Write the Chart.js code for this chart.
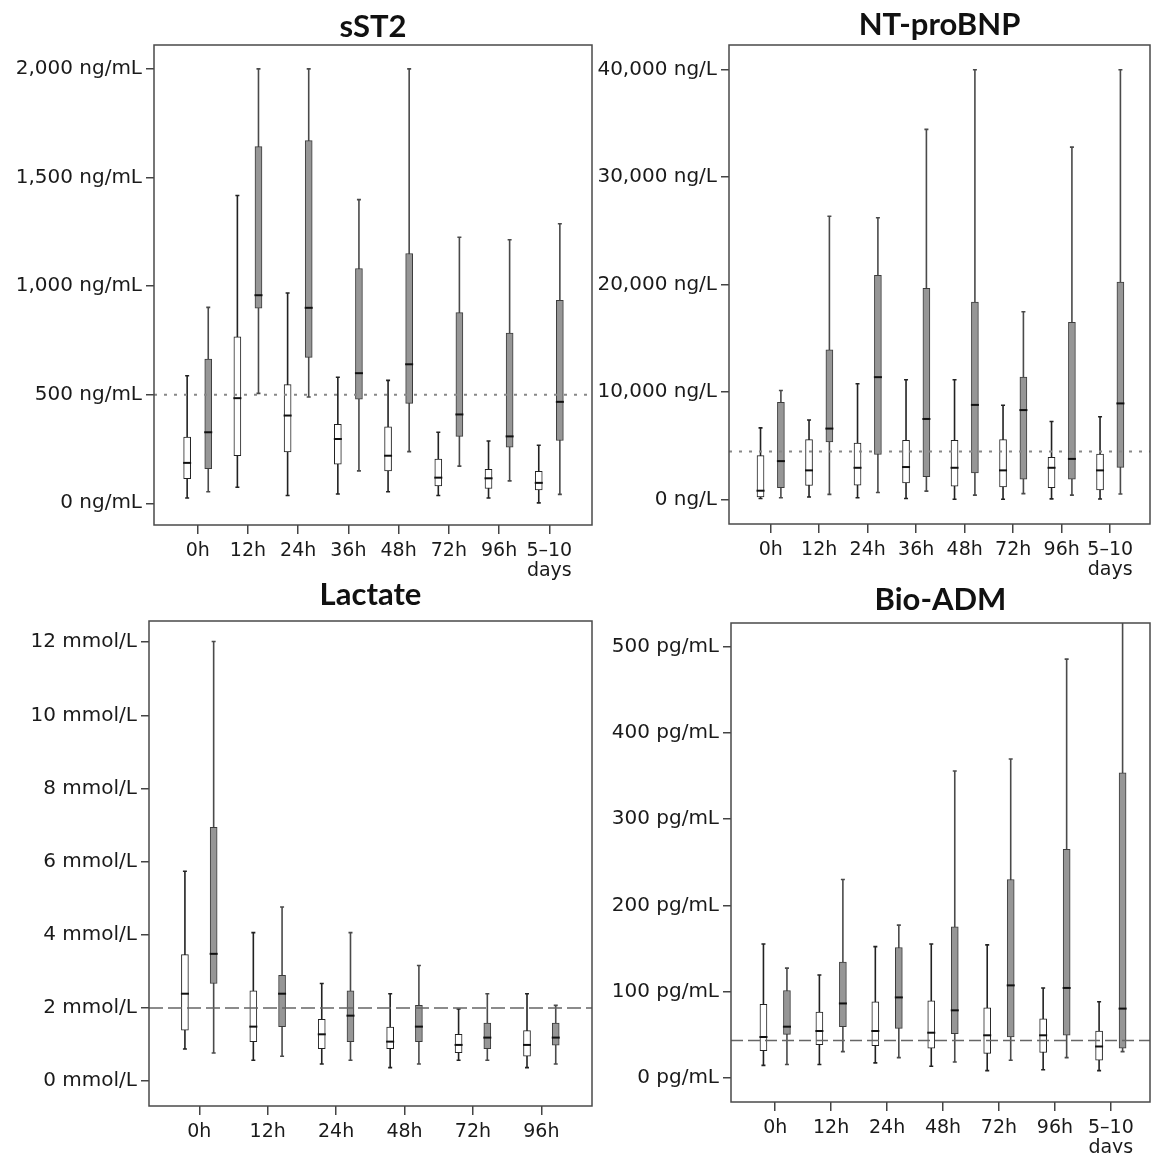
<!DOCTYPE html>
<html>
<head>
<meta charset="utf-8">
<script src="https://cdn.jsdelivr.net/npm/chart.js@4"></script>
<style>
  html, body { margin: 0; padding: 0; background: #fff; }
  #wrap { position: relative; width: 1151px; height: 1153px; overflow: hidden; }
  canvas { position: absolute; }
</style>
</head>
<body>
<div id="wrap">
  <canvas id="c-sst2" width="600" height="580" style="left:0;top:0"></canvas>
  <canvas id="c-nt" width="555" height="580" style="left:596px;top:0"></canvas>
  <canvas id="c-lac" width="600" height="588" style="left:0;top:565px"></canvas>
  <canvas id="c-adm" width="555" height="588" style="left:596px;top:565px"></canvas>
</div>
<script>
// ---- data (each row: [min, q1, median, q3, max]) ----
const sst2Times = ['0h', '12h', '24h', '36h', '48h', '72h', '96h', ['5–10', 'days']];
const sst2Ticks = [0, 500, 1000, 1500, 2000];
const sst2Cutoff = 500;
const sst2Group1 = [[24,113,186,305,587],[74,219,484,766,1417],[36,236,404,546,968],[43,180,296,363,580],[53,149,219,352,566],[36,80,118,204,327],[24,68,115,156,287],[2,62,94,147,267]];
const sst2Group2 = [[53,159,327,664,902],[506,898,958,1642,2000],[489,672,900,1670,2000],[149,479,599,1081,1398],[238,460,640,1150,2000],[171,308,409,878,1225],[103,258,308,784,1213],[41,289,467,934,1287]];

const ntTimes = ['0h', '12h', '24h', '36h', '48h', '72h', '96h', ['5–10', 'days']];
const ntTicks = [0, 10000, 20000, 30000, 40000];
const ntCutoff = 4475;
const ntGroup1 = [[100,240,826,4096,6678],[241,1308,2719,5577,7401],[172,1343,2960,5267,10775],[103,1549,3029,5508,11153],[34,1239,2960,5508,11153],[34,1170,2719,5577,8778],[69,1102,2960,3924,7263],[50,895,2719,4234,7711]];
const ntGroup2 = [[172,1102,3580,9053,10155],[482,5370,6609,13941,26368],[654,4200,11394,20861,26230],[792,2134,7504,19656,34458],[413,2478,8812,18382,40000],[551,1893,8330,11394,17487],[413,1893,3787,16489,32806],[516,2995,8950,20241,40000]];

const lacTimes = ['0h', '12h', '24h', '48h', '72h', '96h'];
const lacTicks = [0, 2, 4, 6, 8, 10, 12];
const lacCutoff = 2;
const lacGroup1 = [[0.88,1.39,2.39,3.46,5.74],[0.57,1.08,1.49,2.47,4.06],[0.47,0.89,1.28,1.69,2.67],[0.37,0.89,1.08,1.48,2.39],[0.57,0.78,0.99,1.28,1.97],[0.37,0.68,0.99,1.38,2.39]];
const lacGroup2 = [[0.77,2.67,3.48,6.94,12.02],[0.68,1.49,2.39,2.89,4.76],[0.57,1.08,1.79,2.47,4.06],[0.47,1.08,1.49,2.07,3.16],[0.57,0.89,1.19,1.59,2.39],[0.47,0.98,1.19,1.59,2.07]];

const admTimes = ['0h', '12h', '24h', '48h', '72h', '96h', ['5–10', 'days']];
const admTicks = [0, 100, 200, 300, 400, 500];
const admCutoff = 43;
const admGroup1 = [[14,31,47,85,155],[15,38,54,76,119],[17,37,54,88,152],[13,34,52,89,155],[8,28,49,81,154],[9,29,49,68,104],[8,20,36,54,88]];
const admGroup2 = [[15,50,59,101,127],[30,59,86,134,230],[23,57,93,151,177],[18,51,78,175,356],[20,47,107,230,370],[23,49,104,265,486],[30,34,80,354,560]];

// whiskers, caps, medians, cut-off line and frame
const boxPlotPlugin = {
  id: 'boxPlot',
  beforeDatasetsDraw(chart) {
    const ctx = chart.ctx, ys = chart.scales.y, a = chart.chartArea;
    ctx.save();
    ctx.beginPath();
    ctx.rect(a.left, a.top, a.right - a.left, a.bottom - a.top);
    ctx.clip();
    chart.data.datasets.forEach((ds, di) => {
      const meta = chart.getDatasetMeta(di);
      ctx.strokeStyle = ds.whiskerColor;
      ctx.lineWidth = 1.6;
      meta.data.forEach((bar, i) => {
        const s = ds.stats[i];
        const x = bar.x;
        const lo = ys.getPixelForValue(s[0]), hi = ys.getPixelForValue(s[4]);
        ctx.beginPath();
        ctx.moveTo(x, lo); ctx.lineTo(x, hi);
        ctx.moveTo(x - 2, lo); ctx.lineTo(x + 2, lo);
        ctx.moveTo(x - 2, hi); ctx.lineTo(x + 2, hi);
        ctx.stroke();
      });
    });
    ctx.restore();
  },
  afterDatasetsDraw(chart, args, opts) {
    const ctx = chart.ctx, ys = chart.scales.y, a = chart.chartArea;
    ctx.save();
    chart.data.datasets.forEach((ds, di) => {
      const meta = chart.getDatasetMeta(di);
      ctx.strokeStyle = '#111';
      ctx.lineWidth = 2;
      meta.data.forEach((bar, i) => {
        const m = ys.getPixelForValue(ds.stats[i][2]);
        ctx.beginPath();
        ctx.moveTo(bar.x - 4, m); ctx.lineTo(bar.x + 4, m);
        ctx.stroke();
      });
    });
    const cy = ys.getPixelForValue(opts.cutoff);
    ctx.strokeStyle = opts.cutoffColor;
    ctx.lineWidth = opts.cutoffWidth;
    ctx.setLineDash(opts.dash);
    ctx.beginPath();
    ctx.moveTo(a.left, cy); ctx.lineTo(a.right, cy);
    ctx.stroke();
    ctx.setLineDash([]);
    ctx.strokeStyle = '#4a4a4a';
    ctx.lineWidth = 1.5;
    ctx.strokeRect(a.left, a.top, a.right - a.left, a.bottom - a.top);
    ctx.restore();
  }
};

const yFont = { family: 'DejaVu Sans', size: 20 };
const xFont = { family: 'DejaVu Sans', size: 19, lineHeight: 1.05 };

function makePanel(id, cfg) {
  const el = document.getElementById(id);
  const cx = parseFloat(el.style.left) || 0;
  const cy = parseFloat(el.style.top) || 0;
  const titleLine = 34;
  const padTop = cfg.titleY - cy - titleLine / 2;
  const padBottom = (cfg.area.top - cy) - padTop - titleLine;
  const yWidth = cfg.area.left - cx;
  const xHeight = cy + el.height - cfg.area.bottom;
  const padRight = cx + el.width - cfg.area.right;

  const toBoxes = (rows, off) => rows.map((s, i) => ({ x: i + off, y: [s[1], s[3]] }));

  return new Chart(el, {
    type: 'bar',
    data: {
      datasets: [
        {
          data: toBoxes(cfg.group1, -0.21), stats: cfg.group1,
          backgroundColor: '#ffffff', borderColor: '#222', borderWidth: 1,
          whiskerColor: '#222'
        },
        {
          data: toBoxes(cfg.group2, 0.21), stats: cfg.group2,
          backgroundColor: '#969696', borderColor: '#3c3c3c', borderWidth: 1,
          whiskerColor: '#4a4a4a'
        }
      ]
    },
    options: {
      responsive: false,
      animation: false,
      grouped: false,
      barThickness: 7,
      maxBarThickness: 7,
      borderSkipped: false,
      layout: { padding: { top: 0, left: 0, right: padRight, bottom: 0 } },
      plugins: {
        legend: { display: false },
        tooltip: { enabled: false },
        title: {
          display: true, text: cfg.title, fullSize: false, color: '#111',
          font: { family: 'Lato', size: 31, weight: 'bold', lineHeight: titleLine / 31 },
          padding: { top: padTop, bottom: padBottom }
        },
        boxPlot: { cutoff: cfg.cutoff, dash: cfg.dash, cutoffColor: cfg.cutoffColor, cutoffWidth: cfg.cutoffWidth }
      },
      scales: {
        x: {
          type: 'linear', offset: false, min: cfg.xRange[0], max: cfg.xRange[1],
          afterBuildTicks: axis => { axis.ticks = cfg.times.map((_, i) => ({ value: i })); },
          afterFit: axis => { axis.height = xHeight; },
          ticks: { callback: v => cfg.times[v], font: xFont, color: '#1a1a1a', padding: 7, maxRotation: 0, autoSkip: false },
          grid: { offset: false, drawOnChartArea: false, drawTicks: true, tickLength: 9, color: '#444', lineWidth: 1.5 },
          border: { display: false }
        },
        y: {
          min: cfg.yRange[0], max: cfg.yRange[1], stacked: false,
          afterBuildTicks: axis => { axis.ticks = cfg.yTicks.map(v => ({ value: v })); },
          afterFit: axis => { axis.width = yWidth; },
          ticks: { callback: v => v.toLocaleString('en-US') + ' ' + cfg.unit, font: yFont, color: '#1a1a1a', padding: 4 },
          grid: { drawOnChartArea: false, drawTicks: true, tickLength: 8, color: '#444', lineWidth: 1.5 },
          border: { display: false }
        }
      }
    },
    plugins: [boxPlotPlugin]
  });
}

makePanel('c-sst2', {
  title: 'sST2', times: sst2Times, yTicks: sst2Ticks, unit: 'ng/mL', cutoff: sst2Cutoff,
  group1: sst2Group1, group2: sst2Group2,
  area: { left: 154, top: 45, right: 592, bottom: 525 }, titleY: 27,
  xRange: [-0.87, 7.85], yRange: [-100, 2110],
  dash: [3, 7], cutoffColor: '#888', cutoffWidth: 2
});
makePanel('c-nt', {
  title: 'NT-proBNP', times: ntTimes, yTicks: ntTicks, unit: 'ng/L', cutoff: ntCutoff,
  group1: ntGroup1, group2: ntGroup2,
  area: { left: 729, top: 45, right: 1150, bottom: 524 }, titleY: 25,
  xRange: [-0.86, 7.82], yRange: [-2272, 42306],
  dash: [3, 7], cutoffColor: '#888', cutoffWidth: 2
});
makePanel('c-lac', {
  title: 'Lactate', times: lacTimes, yTicks: lacTicks, unit: 'mmol/L', cutoff: lacCutoff,
  group1: lacGroup1, group2: lacGroup2,
  area: { left: 149, top: 621, right: 592, bottom: 1106 }, titleY: 595,
  xRange: [-0.735, 5.74], yRange: [-0.68, 12.58],
  dash: [14, 5], cutoffColor: '#666', cutoffWidth: 1.5
});
makePanel('c-adm', {
  title: 'Bio-ADM', times: admTimes, yTicks: admTicks, unit: 'pg/mL', cutoff: admCutoff,
  group1: admGroup1, group2: admGroup2,
  area: { left: 731, top: 623, right: 1150, bottom: 1102 }, titleY: 600,
  xRange: [-0.79, 6.7], yRange: [-28.5, 528],
  dash: [12, 5], cutoffColor: '#666', cutoffWidth: 1.5
});
</script>
</body>
</html>
